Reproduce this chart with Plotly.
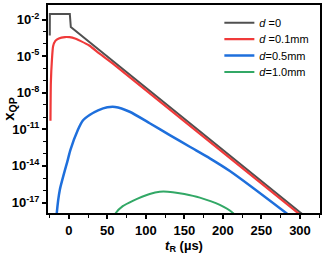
import plotly.graph_objects as go

# ---- data (t_R in µs, x_QP as log10 exponent) ----
t_d0 = [-24.7, -24.6, 1.3, 2.6, 300.0, 320.0]
e_d0 = [-3.3, -1.55, -1.55, -2.61, -17.8, -18.8]

t_d01 = [-23.8, -23.3, -21.9, -20.4, -17.5, -13.0, -5.0, 1.0, 8.0, 15.0, 27.0, 40.0, 60.0, 310.0]
e_d01 = [-10.3, -7.2, -5.3, -4.2, -3.75, -3.55, -3.44, -3.45, -3.55, -3.75, -4.15, -4.8, -5.75, -18.5]

t_d05 = [-16.0, -15.6, -11.7, -1.3, 2.0, 11.7, 18.0, 27.0, 38.0, 50.0, 60.0, 79.0, 105.0, 131.0, 157.0, 183.0, 209.0, 282.0, 295.0]
e_d05 = [-18.3, -17.86, -15.97, -13.5, -12.7, -11.06, -10.3, -9.83, -9.45, -9.2, -9.17, -9.56, -10.5, -11.47, -12.43, -13.38, -14.42, -17.86, -18.5]

t_d10 = [58.0, 61.0, 70.0, 83.0, 105.0, 118.0, 135.0, 150.0, 170.0, 196.0, 213.0, 218.0]
e_d10 = [-18.3, -17.86, -17.3, -16.86, -16.3, -16.12, -16.15, -16.3, -16.6, -17.2, -17.86, -18.3]

names = ["<i>d</i> =0", "<i>d</i> =0.1mm", "<i>d</i>=0.5mm", "<i>d</i>=1.0mm"]
colors = ["#505050", "#f03a3a", "#1e6fdc", "#32a866"]
widths = [2, 2.2, 2.5, 2]

x_ticks = [0, 50, 100, 150, 200, 250, 300]
y_major_exp = [-2, -5, -8, -11, -14, -17]
y_minor_exp = [-3, -4, -6, -7, -9, -10, -12, -13, -15, -16]

FONT = "Arial, Liberation Sans, sans-serif"

legend_ids = ["legend", "legend2", "legend3", "legend4"]
legend_y = [0.915, 0.836, 0.757, 0.678]

fig = go.Figure()
series = [(t_d0, e_d0, 0.0), (t_d01, e_d01, 0.5), (t_d05, e_d05, 0.6), (t_d10, e_d10, 0.6)]
for (t, e, sm), name, col, w, lg in zip(series, names, colors, widths, legend_ids):
    fig.add_trace(go.Scatter(
        x=t, y=[10.0 ** v for v in e], mode="lines", name=name, legend=lg,
        line=dict(color=col, width=w, shape="spline" if sm > 0 else "linear", smoothing=sm if sm > 0 else None),
    ))

legend_common = dict(x=0.63, xanchor="left", yanchor="middle",
                     bgcolor="rgba(0,0,0,0)", font=dict(size=11, family=FONT),
                     itemwidth=30, borderwidth=0)
fig.update_layout(
    width=332, height=255,
    margin=dict(l=48, r=12, t=5, b=42),
    paper_bgcolor="white", plot_bgcolor="white",
    font=dict(family=FONT, color="black"),
    showlegend=True,
    **{lg: dict(y=ly, **legend_common) for lg, ly in zip(legend_ids, legend_y)},
)
fig.update_xaxes(
    range=[-27, 326], tickmode="array", tickvals=x_ticks, automargin=False,
    ticks="outside", ticklen=4, tickwidth=1.5, tickcolor="black",
    minor=dict(tickmode="linear", tick0=-25, dtick=25, ticks="outside", ticklen=3, tickwidth=1.2, tickcolor="black"),
    showline=True, linecolor="black", linewidth=2, mirror=True,
    showgrid=False, zeroline=False,
    tickfont=dict(size=13, weight="bold", family=FONT),
    title=dict(text="<i>t</i><sub>R</sub> (µs)", font=dict(size=13, weight="bold", family=FONT), standoff=2),
)
fig.update_yaxes(
    type="log", range=[-17.86, -0.81], automargin=False,
    tickmode="array", tickvals=[10.0 ** v for v in y_major_exp],
    ticktext=["10<sup>%d</sup>" % v for v in y_major_exp],
    ticks="outside", ticklen=4, tickwidth=1.5, tickcolor="black",
    minor=dict(tickmode="array", tickvals=[10.0 ** v for v in y_minor_exp], ticks="outside", ticklen=3, tickwidth=1.2, tickcolor="black"),
    showline=True, linecolor="black", linewidth=2, mirror=True,
    showgrid=False, zeroline=False,
    tickfont=dict(size=13, weight="bold", family=FONT),
    title=dict(text="x<sub>QP</sub>", font=dict(size=15, weight="bold", family=FONT), standoff=2),
)

fig.write_html("out.html", config={"displayModeBar": False},
               post_script="document.body.style.margin='0';document.body.style.padding='0';")
